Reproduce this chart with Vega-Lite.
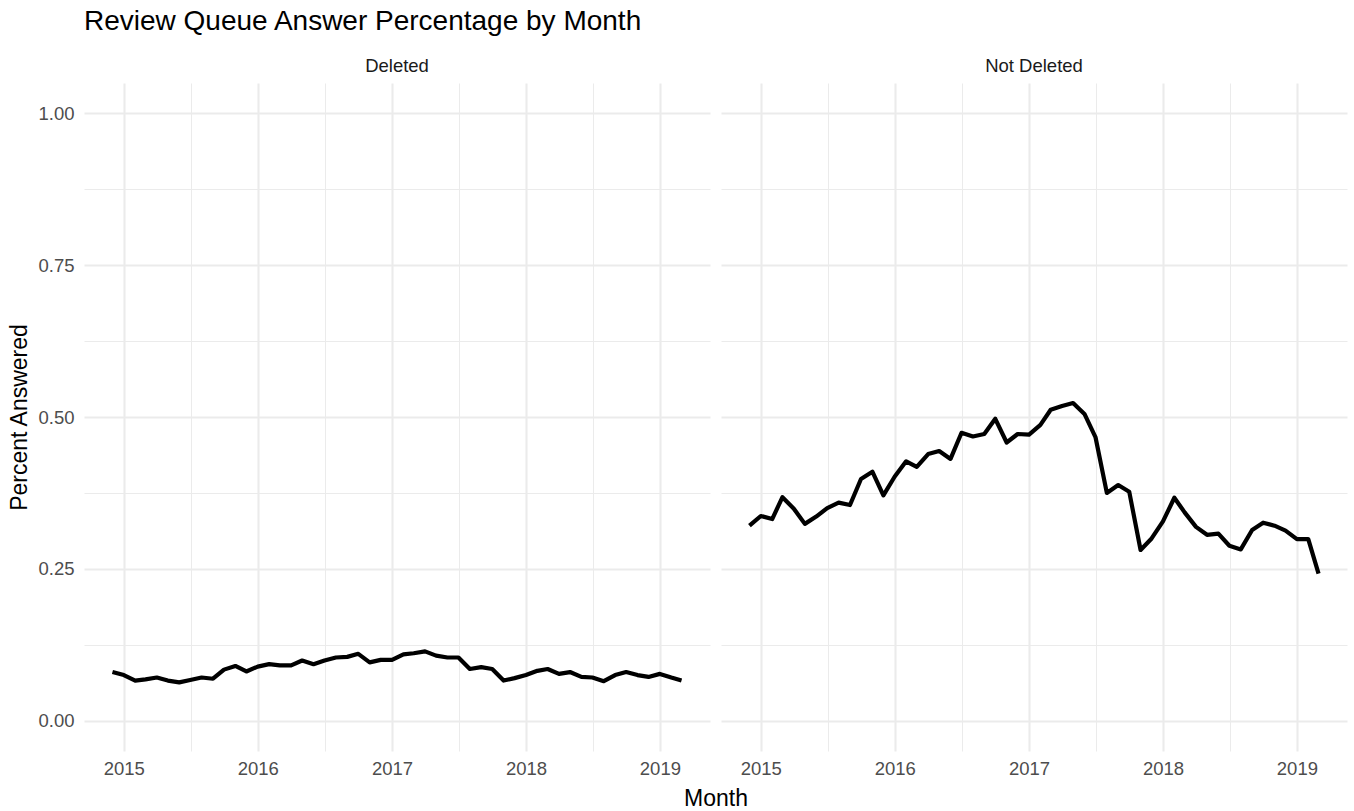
{
  "$schema": "https://vega.github.io/schema/vega-lite/v6.json",
  "padding": {"left": 8, "top": 7, "right": 5, "bottom": 4},
  "title": {"text": "Review Queue Answer Percentage by Month", "anchor": "start", "frame": "group", "fontSize": 28, "font": "Liberation Sans", "fontWeight": "normal", "color": "#000000", "offset": 21},
  "datasets": {
    "answers": [
      {"month": "2014-12-01", "status": "Deleted", "pct": 0.080},
      {"month": "2015-01-01", "status": "Deleted", "pct": 0.075},
      {"month": "2015-02-01", "status": "Deleted", "pct": 0.066},
      {"month": "2015-03-01", "status": "Deleted", "pct": 0.068},
      {"month": "2015-04-01", "status": "Deleted", "pct": 0.071},
      {"month": "2015-05-01", "status": "Deleted", "pct": 0.066},
      {"month": "2015-06-01", "status": "Deleted", "pct": 0.063},
      {"month": "2015-07-01", "status": "Deleted", "pct": 0.067},
      {"month": "2015-08-01", "status": "Deleted", "pct": 0.071},
      {"month": "2015-09-01", "status": "Deleted", "pct": 0.069},
      {"month": "2015-10-01", "status": "Deleted", "pct": 0.084},
      {"month": "2015-11-01", "status": "Deleted", "pct": 0.090},
      {"month": "2015-12-01", "status": "Deleted", "pct": 0.081},
      {"month": "2016-01-01", "status": "Deleted", "pct": 0.089},
      {"month": "2016-02-01", "status": "Deleted", "pct": 0.093},
      {"month": "2016-03-01", "status": "Deleted", "pct": 0.091},
      {"month": "2016-04-01", "status": "Deleted", "pct": 0.091},
      {"month": "2016-05-01", "status": "Deleted", "pct": 0.099},
      {"month": "2016-06-01", "status": "Deleted", "pct": 0.093},
      {"month": "2016-07-01", "status": "Deleted", "pct": 0.099},
      {"month": "2016-08-01", "status": "Deleted", "pct": 0.104},
      {"month": "2016-09-01", "status": "Deleted", "pct": 0.105},
      {"month": "2016-10-01", "status": "Deleted", "pct": 0.110},
      {"month": "2016-11-01", "status": "Deleted", "pct": 0.096},
      {"month": "2016-12-01", "status": "Deleted", "pct": 0.100},
      {"month": "2017-01-01", "status": "Deleted", "pct": 0.100},
      {"month": "2017-02-01", "status": "Deleted", "pct": 0.109},
      {"month": "2017-03-01", "status": "Deleted", "pct": 0.111},
      {"month": "2017-04-01", "status": "Deleted", "pct": 0.114},
      {"month": "2017-05-01", "status": "Deleted", "pct": 0.107},
      {"month": "2017-06-01", "status": "Deleted", "pct": 0.104},
      {"month": "2017-07-01", "status": "Deleted", "pct": 0.104},
      {"month": "2017-08-01", "status": "Deleted", "pct": 0.085},
      {"month": "2017-09-01", "status": "Deleted", "pct": 0.088},
      {"month": "2017-10-01", "status": "Deleted", "pct": 0.085},
      {"month": "2017-11-01", "status": "Deleted", "pct": 0.066},
      {"month": "2017-12-01", "status": "Deleted", "pct": 0.070},
      {"month": "2018-01-01", "status": "Deleted", "pct": 0.075},
      {"month": "2018-02-01", "status": "Deleted", "pct": 0.082},
      {"month": "2018-03-01", "status": "Deleted", "pct": 0.085},
      {"month": "2018-04-01", "status": "Deleted", "pct": 0.077},
      {"month": "2018-05-01", "status": "Deleted", "pct": 0.080},
      {"month": "2018-06-01", "status": "Deleted", "pct": 0.072},
      {"month": "2018-07-01", "status": "Deleted", "pct": 0.071},
      {"month": "2018-08-01", "status": "Deleted", "pct": 0.065},
      {"month": "2018-09-01", "status": "Deleted", "pct": 0.075},
      {"month": "2018-10-01", "status": "Deleted", "pct": 0.080},
      {"month": "2018-11-01", "status": "Deleted", "pct": 0.075},
      {"month": "2018-12-01", "status": "Deleted", "pct": 0.072},
      {"month": "2019-01-01", "status": "Deleted", "pct": 0.077},
      {"month": "2019-02-01", "status": "Deleted", "pct": 0.071},
      {"month": "2019-03-01", "status": "Deleted", "pct": 0.066},
      {"month": "2014-12-01", "status": "Not Deleted", "pct": 0.321},
      {"month": "2015-01-01", "status": "Not Deleted", "pct": 0.337},
      {"month": "2015-02-01", "status": "Not Deleted", "pct": 0.332},
      {"month": "2015-03-01", "status": "Not Deleted", "pct": 0.368},
      {"month": "2015-04-01", "status": "Not Deleted", "pct": 0.349},
      {"month": "2015-05-01", "status": "Not Deleted", "pct": 0.324},
      {"month": "2015-06-01", "status": "Not Deleted", "pct": 0.336},
      {"month": "2015-07-01", "status": "Not Deleted", "pct": 0.350},
      {"month": "2015-08-01", "status": "Not Deleted", "pct": 0.359},
      {"month": "2015-09-01", "status": "Not Deleted", "pct": 0.355},
      {"month": "2015-10-01", "status": "Not Deleted", "pct": 0.398},
      {"month": "2015-11-01", "status": "Not Deleted", "pct": 0.410},
      {"month": "2015-12-01", "status": "Not Deleted", "pct": 0.371},
      {"month": "2016-01-01", "status": "Not Deleted", "pct": 0.402},
      {"month": "2016-02-01", "status": "Not Deleted", "pct": 0.427},
      {"month": "2016-03-01", "status": "Not Deleted", "pct": 0.418},
      {"month": "2016-04-01", "status": "Not Deleted", "pct": 0.439},
      {"month": "2016-05-01", "status": "Not Deleted", "pct": 0.444},
      {"month": "2016-06-01", "status": "Not Deleted", "pct": 0.431},
      {"month": "2016-07-01", "status": "Not Deleted", "pct": 0.474},
      {"month": "2016-08-01", "status": "Not Deleted", "pct": 0.468},
      {"month": "2016-09-01", "status": "Not Deleted", "pct": 0.472},
      {"month": "2016-10-01", "status": "Not Deleted", "pct": 0.497},
      {"month": "2016-11-01", "status": "Not Deleted", "pct": 0.458},
      {"month": "2016-12-01", "status": "Not Deleted", "pct": 0.472},
      {"month": "2017-01-01", "status": "Not Deleted", "pct": 0.471},
      {"month": "2017-02-01", "status": "Not Deleted", "pct": 0.487},
      {"month": "2017-03-01", "status": "Not Deleted", "pct": 0.512},
      {"month": "2017-04-01", "status": "Not Deleted", "pct": 0.518},
      {"month": "2017-05-01", "status": "Not Deleted", "pct": 0.523},
      {"month": "2017-06-01", "status": "Not Deleted", "pct": 0.505},
      {"month": "2017-07-01", "status": "Not Deleted", "pct": 0.467},
      {"month": "2017-08-01", "status": "Not Deleted", "pct": 0.375},
      {"month": "2017-09-01", "status": "Not Deleted", "pct": 0.388},
      {"month": "2017-10-01", "status": "Not Deleted", "pct": 0.377},
      {"month": "2017-11-01", "status": "Not Deleted", "pct": 0.281},
      {"month": "2017-12-01", "status": "Not Deleted", "pct": 0.300},
      {"month": "2018-01-01", "status": "Not Deleted", "pct": 0.328},
      {"month": "2018-02-01", "status": "Not Deleted", "pct": 0.367},
      {"month": "2018-03-01", "status": "Not Deleted", "pct": 0.343},
      {"month": "2018-04-01", "status": "Not Deleted", "pct": 0.319},
      {"month": "2018-05-01", "status": "Not Deleted", "pct": 0.306},
      {"month": "2018-06-01", "status": "Not Deleted", "pct": 0.308},
      {"month": "2018-07-01", "status": "Not Deleted", "pct": 0.288},
      {"month": "2018-08-01", "status": "Not Deleted", "pct": 0.282},
      {"month": "2018-09-01", "status": "Not Deleted", "pct": 0.314},
      {"month": "2018-10-01", "status": "Not Deleted", "pct": 0.326},
      {"month": "2018-11-01", "status": "Not Deleted", "pct": 0.321},
      {"month": "2018-12-01", "status": "Not Deleted", "pct": 0.313},
      {"month": "2019-01-01", "status": "Not Deleted", "pct": 0.299},
      {"month": "2019-02-01", "status": "Not Deleted", "pct": 0.299},
      {"month": "2019-03-01", "status": "Not Deleted", "pct": 0.242}
    ]
  },
  "data": {"name": "answers"},
  "facet": {
    "column": {
      "field": "status", "type": "nominal", "title": "Month",
      "header": {
        "labelOrient": "top", "titleOrient": "bottom",
        "labelFont": "Liberation Sans", "labelFontSize": 18.5, "labelColor": "#1A1A1A", "labelPadding": 8,
        "titleFont": "Liberation Sans", "titleFontSize": 23, "titleFontWeight": "normal", "titleColor": "#000000", "titlePadding": 0
      }
    }
  },
  "spacing": 11,
  "spec": {
    "width": 626,
    "height": 668,
    "layer": [
      {
        "mark": {"type": "line", "strokeOpacity": 0},
        "encoding": {
          "x": {
            "field": "month", "type": "temporal",
            "scale": {"type": "utc", "domain": [{"year": 2014, "month": 9, "date": 14, "hours": 11, "utc": true}, {"year": 2019, "month": 5, "date": 17, "hours": 13, "utc": true}]},
            "axis": {"orient": "bottom", "values": [{"year": 2015, "month": 7, "date": 2, "utc": true}, {"year": 2016, "month": 7, "date": 2, "utc": true}, {"year": 2017, "month": 7, "date": 2, "utc": true}, {"year": 2018, "month": 7, "date": 2, "utc": true}], "grid": true, "gridWidth": 1.05, "labels": false, "ticks": false, "domain": false, "title": null}
          },
          "y": {
            "field": "pct", "type": "quantitative",
            "scale": {"domain": [-0.05, 1.05], "nice": false, "zero": false},
            "axis": {"orient": "left", "values": [0.125, 0.375, 0.625, 0.875], "grid": true, "gridWidth": 1.05, "labels": false, "ticks": false, "domain": false, "title": null}
          }
        }
      },
      {
        "mark": {"type": "line", "color": "#000000", "strokeWidth": 4.2, "strokeJoin": "round", "strokeCap": "butt"},
        "encoding": {
          "x": {
            "field": "month", "type": "temporal",
            "scale": {"type": "utc", "domain": [{"year": 2014, "month": 9, "date": 14, "hours": 11, "utc": true}, {"year": 2019, "month": 5, "date": 17, "hours": 13, "utc": true}]},
            "axis": {"orient": "bottom", "values": [{"year": 2015, "month": 1, "date": 1, "utc": true}, {"year": 2016, "month": 1, "date": 1, "utc": true}, {"year": 2017, "month": 1, "date": 1, "utc": true}, {"year": 2018, "month": 1, "date": 1, "utc": true}, {"year": 2019, "month": 1, "date": 1, "utc": true}], "format": "%Y", "grid": true, "title": null, "labelPadding": 8}
          },
          "y": {
            "field": "pct", "type": "quantitative",
            "scale": {"domain": [-0.05, 1.05], "nice": false, "zero": false},
            "axis": {"orient": "left", "values": [0, 0.25, 0.5, 0.75, 1], "format": ".2f", "grid": true, "title": "Percent Answered", "labelPadding": 10, "titlePadding": 6}
          }
        }
      }
    ],
    "resolve": {"axis": {"x": "independent", "y": "independent"}}
  },
  "config": {
    "view": {"stroke": null},
    "font": "Liberation Sans",
    "axis": {
      "labelFont": "Liberation Sans", "labelFontSize": 18.5, "labelColor": "#4D4D4D",
      "gridColor": "#EBEBEB", "gridWidth": 2.1, "domain": false, "ticks": false,
      "titleFont": "Liberation Sans", "titleFontSize": 23, "titleFontWeight": "normal", "titleColor": "#000000"
    }
  }
}
